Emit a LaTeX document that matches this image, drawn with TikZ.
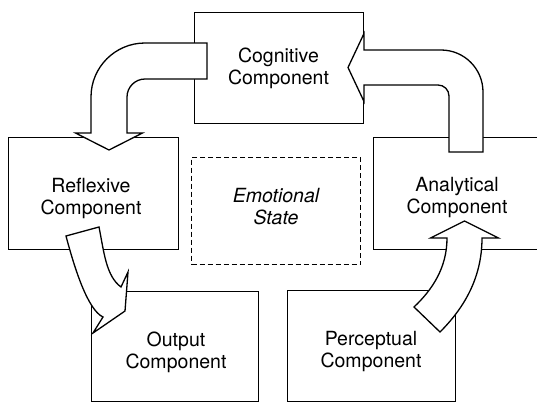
\documentclass[tikz,border=0pt]{standalone}
\usepackage{fontspec}
\newfontfamily\hv{TeX Gyre Heros}
\begin{document}
\begin{tikzpicture}[x=1pt,y=-1pt,
  box/.style={draw, line width=1.3pt, inner sep=0pt, anchor=north west},
  lbl/.style={font=\hv\fontsize{19.5}{22}\selectfont, align=center, inner sep=0pt},
  blockarrow/.style={draw, fill=white, line width=1.3pt, line join=miter}]
\useasboundingbox (0,0) rectangle (537,402);
\clip (0,0) rectangle (537,402);
% boxes
\node[box, minimum width=169pt, minimum height=111pt] (cog) at (194,12) {};
\node[box, minimum width=170pt, minimum height=112pt] (refl) at (8,137) {};
\node[box, minimum width=172pt, minimum height=112pt] (anal) at (373,137) {};
\node[box, dash pattern=on 5pt off 3pt, minimum width=169pt, minimum height=107.5pt] (emo) at (191,156.5) {};
\node[box, minimum width=167pt, minimum height=110pt] (outp) at (91,291) {};
\node[box, minimum width=168pt, minimum height=111pt] (perc) at (287,290) {};
% labels
\node[lbl] (cogt) at (278.5,68.5) {Cognitive\\Component};
\node[lbl] (reflt) at (91,198) {Reflexive\\Component};
\node[lbl, font=\hv\itshape\fontsize{19.5}{22}\selectfont] (emot) at (276,207) {Emotional\\State};
\node[lbl] (analt) at (457,198) {Analytical\\Component};
\node[lbl] (outt) at (176,352) {Output\\Component};
\node[lbl] (perct) at (371,352) {Perceptual\\Component};
% block arrows
% Cognitive -> Reflexive
\draw[blockarrow] (207,43) -- (145,43) .. controls (115.2,43) and (91,67.2) .. (91,97)
  -- (91,133) -- (75.5,133) -- (109,150) -- (142.5,133) -- (127,133) -- (127,97)
  .. controls (127,87.1) and (135.1,79) .. (145,79) -- (207,79) -- cycle;
% Analytical -> Cognitive
\draw[blockarrow] (364,50) -- (441,50) .. controls (464.2,50) and (483,68.8) .. (483,92)
  -- (483,152) -- (449,152) -- (449,96) .. controls (449,89.9) and (444.1,85) .. (438,85)
  -- (364,85) -- (364,101.5) -- (348,67.5) -- (364,33.5) -- cycle;
% Reflexive -> Output
\draw[blockarrow] (66,236) -- (99,227) .. controls (104,252) and (106,276) .. (121,287)
  -- (128,272) -- (125,311) -- (93,333) -- (103,317)
  .. controls (88,310) and (75,270) .. (66,236) -- cycle;
% Perceptual -> Analytical
\draw[blockarrow] (414,307) -- (440,332) .. controls (462,310) and (482,280) .. (482,238)
  -- (498.5,238) -- (464.5,221) -- (430.5,238) -- (447,238)
  .. controls (447,268) and (432,290) .. (414,307) -- cycle;
\end{tikzpicture}
\end{document}
